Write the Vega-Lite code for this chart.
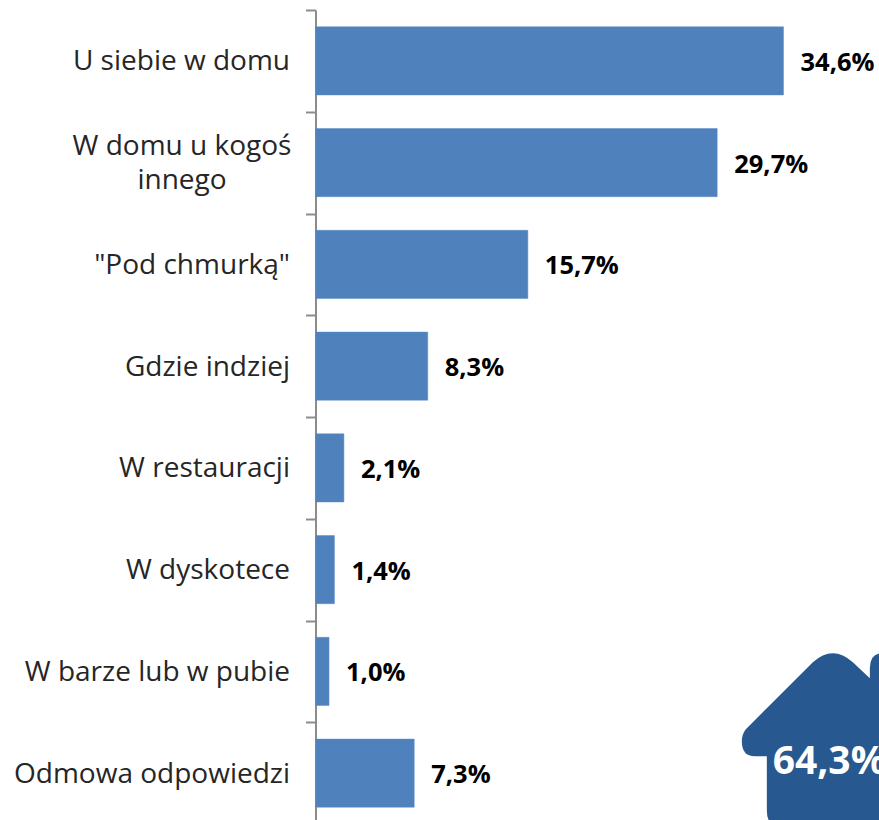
{"$schema":"https://vega.github.io/schema/vega-lite/v6.json","autosize":"none","padding":{"left":315.5,"top":10,"right":0,"bottom":0},"width":564,"height":810,"background":"white","config":{"view":{"stroke":null}},"datasets":{"bars":[{"place":"U siebie w domu","pct":34.6,"label":"34,6%"},{"place":"W domu u kogoś innego","pct":29.7,"label":"29,7%"},{"place":"\"Pod chmurką\"","pct":15.7,"label":"15,7%"},{"place":"Gdzie indziej","pct":8.3,"label":"8,3%"},{"place":"W restauracji","pct":2.1,"label":"2,1%"},{"place":"W dyskotece","pct":1.4,"label":"1,4%"},{"place":"W barze lub w pubie","pct":1.0,"label":"1,0%"},{"place":"Odmowa odpowiedzi","pct":7.3,"label":"7,3%"}],"house":[{"place":"Odmowa odpowiedzi","pos":38.25,"textpos":33.8,"label":"64,3%"}]},"encoding":{"y":{"field":"place","type":"nominal","sort":null,"scale":{"domain":["U siebie w domu","W domu u kogoś innego","\"Pod chmurką\"","Gdzie indziej","W restauracji","W dyskotece","W barze lub w pubie","Odmowa odpowiedzi"],"range":[0,814],"paddingInner":0,"paddingOuter":0},"axis":{"title":null,"tickBand":"extent","tickExtra":true,"tickSize":10,"tickWidth":2,"tickColor":"#8c8c8c","domainColor":"#8c8c8c","domainWidth":2,"labelFont":"Open Sans","labelFontSize":28,"labelColor":"#262626","labelLimit":320,"labelLineHeight":34,"labelPadding":{"condition":{"test":"datum.value == 'W domu u kogoś innego'","value":124},"value":16},"labelAlign":{"condition":{"test":"datum.value == 'W domu u kogoś innego'","value":"center"},"value":"right"},"labelOffset":{"condition":{"test":"datum.value == 'W domu u kogoś innego'","value":-16},"value":1},"labelExpr":"datum.label == 'W domu u kogoś innego' ? ['W domu u kogoś', 'innego'] : datum.label"}},"x":{"type":"quantitative","scale":{"domain":[0,41.7],"nice":false,"zero":true},"axis":null}},"layer":[{"data":{"name":"bars"},"mark":{"type":"bar","color":"#4F81BD","stroke":"#5a8ac4","strokeWidth":0.5,"height":{"band":0.669}},"encoding":{"x":{"field":"pct","type":"quantitative"}}},{"data":{"name":"bars"},"mark":{"type":"text","align":"left","baseline":"middle","dx":17,"dy":2,"font":"Open Sans","fontWeight":"bold","fontSize":25.5,"color":"#000000"},"encoding":{"x":{"field":"pct","type":"quantitative"},"text":{"field":"label"}}},{"data":{"name":"house"},"mark":{"type":"point","filled":true,"opacity":1,"color":"#27588F","size":40000,"shape":"M-0.66 -0.17 L-0.78 -0.17 Q-0.91 -0.17 -0.91 -0.32 Q-0.91 -0.39 -0.87 -0.44 L-0.2 -1.11 Q0 -1.29 0.2 -1.11 L0.37 -0.95 L0.37 -1.05 Q0.37 -1.2 0.5 -1.2 L0.7 -1.2 L0.7 -0.17 L0.66 -0.17 L0.66 0.55 L-0.5 0.55 Q-0.66 0.55 -0.66 0.37 Z"},"encoding":{"x":{"field":"pos","type":"quantitative"}}},{"data":{"name":"house"},"mark":{"type":"text","align":"left","baseline":"middle","dy":-11,"font":"Open Sans","fontWeight":"bold","fontSize":39,"color":"white"},"encoding":{"x":{"field":"textpos","type":"quantitative"},"text":{"field":"label"}}}]}
